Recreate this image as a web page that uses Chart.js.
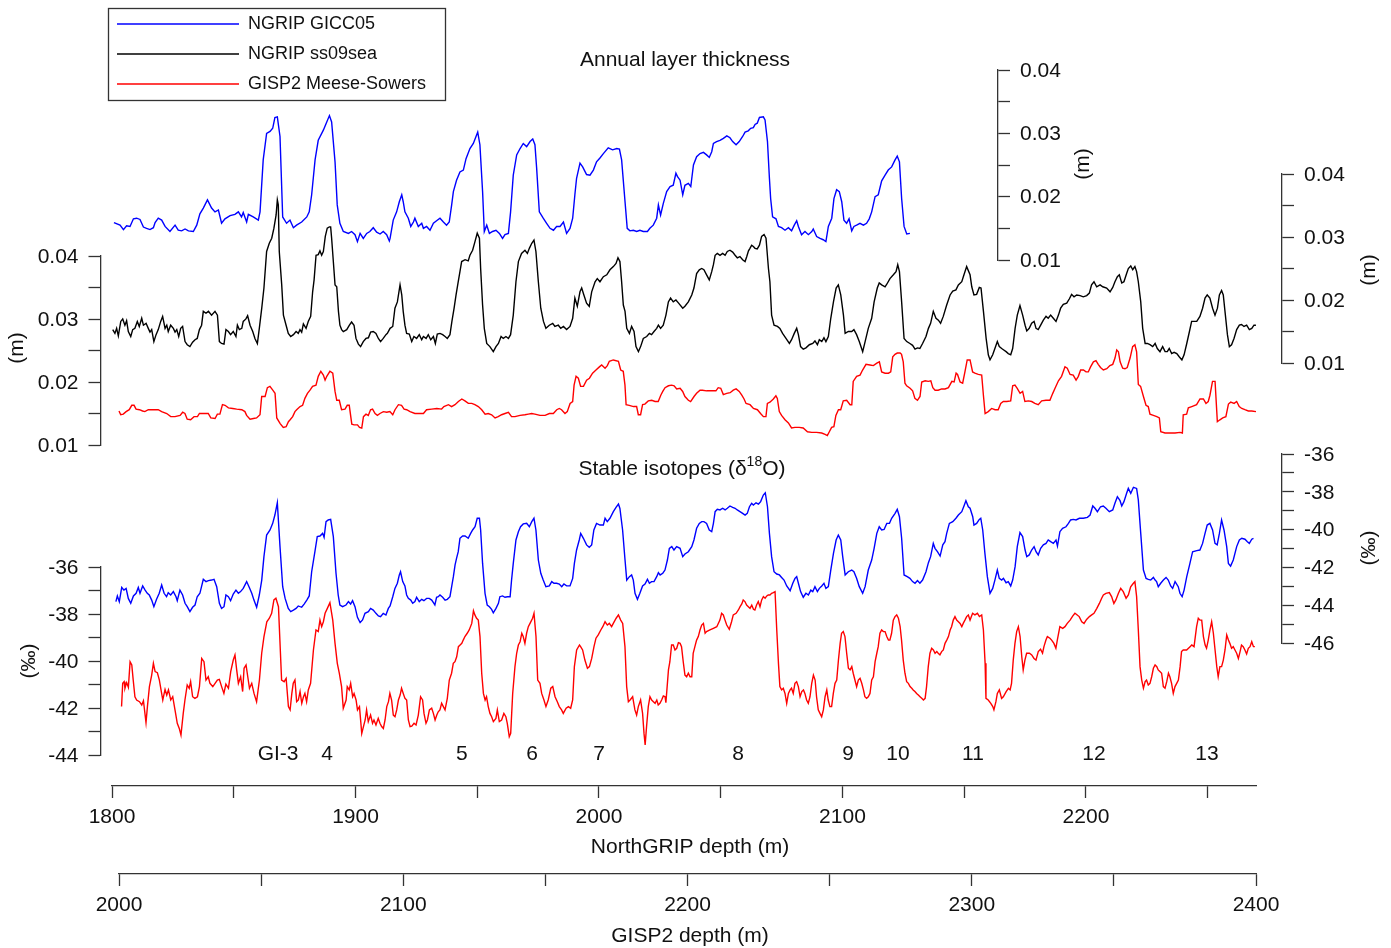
<!DOCTYPE html>
<html>
<head>
<meta charset="utf-8">
<title>NGRIP / GISP2 layer thickness and isotopes</title>
<script src="https://cdn.jsdelivr.net/npm/chart.js@4.4.1/dist/chart.umd.min.js"></script>
<style>
  html, body { margin: 0; background: #fff; }
  #wrap { position: relative; width: 1391px; height: 948px; }
</style>
</head>
<body>
<div id="wrap"><canvas id="chart" width="1391" height="948"></canvas></div>
<script>
// ===== DATA =====
// [depth (m), value] pairs
// NGRIP GICC05 annual layer thickness (m) vs NorthGRIP depth
const gicc05Layer = [
  [1800.8,.0159],[1803.3,.0155],[1804.7,.0148],[1806.0,.0154],[1807.4,.0153],[1808.8,.0165],[1810.1,.0166],[1811.5,.0164],[1812.9,.0152],[1814.2,.0150],
  [1815.6,.0148],[1817.0,.0151],[1817.7,.0159],[1819.0,.0166],[1820.4,.0163],[1821.8,.0153],[1823.8,.0145],[1825.9,.0155],[1827.2,.0147],[1828.6,.0146],
  [1830.0,.0149],[1831.4,.0146],[1833.4,.0145],[1834.8,.0155],[1836.1,.0173],[1837.5,.0182],[1839.2,.0195],[1840.9,.0182],[1842.3,.0176],[1843.7,.0179],
  [1845.0,.0158],[1846.4,.0165],[1848.5,.0170],[1850.5,.0172],[1851.9,.0176],[1853.2,.0168],[1853.9,.0175],[1855.3,.0160],[1856.0,.0172],[1858.0,.0168],
  [1860.1,.0163],[1860.8,.0176],[1862.1,.0258],[1863.5,.0300],[1864.9,.0303],[1866.0,.0308],[1866.9,.0325],[1867.9,.0326],[1869.0,.0295],[1870.1,.0168],
  [1871.7,.0158],[1873.1,.0163],[1874.5,.0151],[1875.8,.0155],[1877.9,.0160],[1880.0,.0168],[1881.0,.0176],[1882.0,.0203],[1883.4,.0258],[1884.7,.0289],
  [1886.8,.0305],[1888.2,.0318],[1889.3,.0328],[1890.2,.0318],[1891.6,.0255],[1892.5,.0187],[1893.6,.0158],[1895.0,.0145],[1897.1,.0142],[1898.4,.0145],
  [1899.8,.0140],[1900.8,.0129],[1901.9,.0142],[1903.2,.0134],[1904.6,.0142],[1905.9,.0145],[1907.3,.0151],[1908.7,.0144],[1910.1,.0141],[1911.4,.0145],
  [1912.8,.0140],[1913.9,.0130],[1914.2,.0134],[1915.5,.0163],[1916.9,.0176],[1918.0,.0192],[1919.0,.0203],[1919.6,.0192],[1920.3,.0176],[1921.7,.0166],
  [1922.7,.0153],[1923.8,.0160],[1924.4,.0166],[1925.8,.0153],[1927.2,.0158],[1927.9,.0150],[1929.2,.0153],[1930.6,.0147],[1932.0,.0158],[1933.3,.0162],
  [1934.7,.0166],[1936.1,.0160],[1937.4,.0155],[1938.5,.0160],[1939.5,.0187],[1940.2,.0208],[1941.5,.0226],[1942.9,.0239],[1944.3,.0242],[1945.4,.0260],
  [1947.0,.0276],[1948.4,.0284],[1949.5,.0295],[1950.2,.0302],[1951.1,.0282],[1952.2,.0208],[1952.9,.0145],[1953.9,.0155],[1955.0,.0142],[1956.3,.0145],
  [1957.7,.0147],[1959.1,.0142],[1960.4,.0134],[1961.4,.0140],[1962.8,.0142],[1963.7,.0176],[1964.8,.0234],[1966.2,.0266],[1967.6,.0276],[1968.9,.0284],
  [1970.3,.0279],[1971.7,.0287],[1972.8,.0291],[1973.7,.0282],[1974.4,.0245],[1975.5,.0176],[1977.1,.0166],[1978.5,.0158],[1979.9,.0150],[1981.3,.0147],
  [1982.6,.0153],[1984.0,.0153],[1985.4,.0160],[1986.7,.0142],[1988.1,.0150],[1989.2,.0166],[1990.1,.0203],[1990.8,.0229],[1992.2,.0253],[1993.3,.0247],
  [1994.9,.0235],[1996.3,.0234],[1997.7,.0242],[1999.0,.0255],[2000.4,.0261],[2001.8,.0268],[2003.8,.0277],[2005.6,.0274],[2007.3,.0276],[2008.4,.0275],
  [2009.3,.0258],[2010.7,.0192],[2011.6,.0150],[2012.7,.0146],[2014.1,.0147],[2015.5,.0145],[2016.8,.0147],[2018.2,.0145],[2019.9,.0145],[2020.9,.0150],
  [2022.3,.0155],[2023.7,.0166],[2024.4,.0187],[2025.3,.0171],[2026.4,.0189],[2027.8,.0208],[2029.2,.0216],[2030.5,.0218],[2031.6,.0237],[2032.2,.0232],
  [2033.3,.0226],[2034.4,.0203],[2035.3,.0218],[2036.7,.0221],[2037.7,.0216],[2038.8,.0250],[2040.1,.0263],[2041.5,.0268],[2042.9,.0270],[2044.2,.0266],
  [2045.3,.0262],[2046.3,.0271],[2047.0,.0284],[2048.3,.0287],[2049.7,.0289],[2051.1,.0292],[2052.5,.0296],[2053.8,.0293],[2054.9,.0287],[2056.3,.0282],
  [2057.6,.0287],[2059.0,.0295],[2060.0,.0302],[2061.3,.0304],[2062.3,.0308],[2063.4,.0309],[2064.1,.0314],[2065.0,.0316],[2065.9,.0325],[2067.5,.0326],
  [2068.2,.0321],[2069.2,.0287],[2070.0,.0229],[2070.5,.0197],[2071.3,.0168],[2072.7,.0165],[2073.7,.0153],[2075.0,.0151],[2076.4,.0147],[2077.8,.0151],
  [2079.1,.0146],[2080.2,.0155],[2081.2,.0162],[2081.9,.0153],[2083.2,.0140],[2084.6,.0145],[2086.0,.0140],[2087.4,.0145],[2088.0,.0149],[2089.4,.0137],
  [2090.8,.0134],[2092.1,.0132],[2093.2,.0129],[2094.2,.0153],[2095.6,.0166],[2096.5,.0197],[2097.6,.0211],[2098.7,.0208],[2099.7,.0192],[2100.6,.0163],
  [2101.7,.0158],[2102.7,.0165],[2103.8,.0146],[2104.7,.0153],[2105.8,.0155],[2107.2,.0158],[2108.6,.0155],[2109.9,.0158],[2111.0,.0165],[2112.0,.0176],
  [2113.4,.0200],[2114.7,.0203],[2116.1,.0225],[2117.5,.0234],[2118.8,.0242],[2120.2,.0247],[2121.6,.0258],[2122.5,.0264],[2123.4,.0255],[2124.3,.0197],
  [2125.3,.0153],[2126.4,.0141],[2127.7,.0142]
];

// NGRIP ss09sea annual layer thickness (m) vs NorthGRIP depth
const ss09Layer = [
  [1800.3,.0153],[1801.2,.0147],[1801.9,.0155],[1802.6,.0143],[1803.6,.0166],[1804.4,.0170],[1805.3,.0160],[1806.0,.0167],[1806.7,.0150],[1807.7,.0142],
  [1808.5,.0153],[1809.4,.0155],[1810.4,.0166],[1811.2,.0158],[1812.2,.0171],[1812.9,.0160],[1814.0,.0163],[1814.9,.0155],[1815.6,.0149],[1816.3,.0153],
  [1817.2,.0134],[1818.1,.0145],[1819.0,.0153],[1820.0,.0166],[1820.8,.0174],[1821.8,.0155],[1822.5,.0160],[1823.1,.0150],[1824.1,.0160],[1825.2,.0155],
  [1825.9,.0149],[1826.6,.0153],[1827.4,.0142],[1828.2,.0155],[1829.0,.0158],[1830.0,.0134],[1830.9,.0129],[1832.0,.0126],[1833.1,.0133],[1834.1,.0137],
  [1835.0,.0139],[1835.9,.0153],[1836.8,.0160],[1837.5,.0182],[1838.6,.0179],[1839.6,.0182],[1840.9,.0176],[1842.3,.0182],[1843.3,.0176],[1844.1,.0134],
  [1845.0,.0131],[1846.0,.0130],[1846.8,.0153],[1847.8,.0150],[1848.7,.0145],[1849.8,.0150],[1850.9,.0142],[1851.5,.0160],[1852.3,.0153],[1853.3,.0155],
  [1853.9,.0166],[1855.0,.0170],[1855.7,.0175],[1856.7,.0160],[1857.8,.0150],[1858.7,.0139],[1859.7,.0131],[1860.5,.0155],[1861.5,.0187],[1862.4,.0219],
  [1863.5,.0277],[1864.6,.0290],[1865.6,.0298],[1866.5,.0314],[1867.4,.0335],[1867.9,.0359],[1868.3,.0351],[1868.7,.0277],[1869.7,.0224],[1870.4,.0176],
  [1871.5,.0160],[1872.4,.0147],[1873.4,.0142],[1874.5,.0145],[1875.6,.0150],[1876.5,.0147],[1877.2,.0153],[1877.9,.0149],[1878.6,.0162],[1879.7,.0155],
  [1880.6,.0166],[1881.6,.0174],[1882.4,.0213],[1883.0,.0232],[1883.8,.0271],[1884.7,.0272],[1885.4,.0278],[1886.1,.0271],[1886.8,.0277],[1887.6,.0301],
  [1888.4,.0314],[1889.3,.0316],[1889.8,.0316],[1890.2,.0298],[1890.9,.0261],[1891.6,.0224],[1892.3,.0221],[1893.0,.0182],[1893.6,.0160],[1894.3,.0153],
  [1895.0,.0150],[1896.4,.0153],[1897.5,.0160],[1898.4,.0165],[1899.4,.0160],[1900.2,.0139],[1901.2,.0130],[1902.1,.0126],[1903.2,.0134],[1904.3,.0139],
  [1905.3,.0140],[1906.2,.0149],[1907.3,.0150],[1908.4,.0147],[1909.4,.0139],[1910.3,.0134],[1911.4,.0139],[1912.5,.0145],[1913.1,.0147],[1914.2,.0155],
  [1915.3,.0158],[1916.2,.0187],[1917.2,.0197],[1918.3,.0224],[1919.0,.0208],[1919.6,.0182],[1920.3,.0160],[1921.0,.0147],[1922.1,.0146],[1923.1,.0134],
  [1924.0,.0142],[1925.1,.0139],[1926.2,.0145],[1927.2,.0137],[1927.9,.0142],[1929.0,.0139],[1929.9,.0145],[1930.9,.0137],[1932.0,.0142],[1932.8,.0131],
  [1933.6,.0146],[1934.7,.0147],[1935.8,.0145],[1936.8,.0142],[1937.7,.0139],[1938.8,.0145],[1939.6,.0166],[1940.5,.0187],[1941.3,.0208],[1942.2,.0229],
  [1942.9,.0245],[1943.6,.0261],[1945.0,.0264],[1946.3,.0262],[1947.0,.0271],[1948.1,.0279],[1949.1,.0293],[1950.0,.0306],[1950.9,.0298],[1951.4,.0250],
  [1952.2,.0192],[1952.9,.0155],[1953.9,.0131],[1955.2,.0126],[1956.6,.0118],[1957.7,.0126],[1958.7,.0131],[1959.8,.0142],[1960.7,.0139],[1961.8,.0142],
  [1962.8,.0139],[1963.7,.0145],[1964.8,.0176],[1965.9,.0229],[1966.9,.0261],[1968.2,.0274],[1969.6,.0279],[1970.6,.0274],[1971.4,.0282],[1972.4,.0290],
  [1973.3,.0295],[1974.1,.0277],[1975.1,.0229],[1976.1,.0187],[1977.2,.0166],[1978.2,.0155],[1979.6,.0160],[1981.0,.0163],[1981.9,.0158],[1983.3,.0160],
  [1984.3,.0155],[1985.4,.0158],[1986.7,.0153],[1988.1,.0158],[1989.2,.0171],[1990.1,.0203],[1991.1,.0190],[1992.2,.0213],[1992.9,.0219],[1993.8,.0208],
  [1994.9,.0195],[1996.0,.0190],[1997.0,.0213],[1998.4,.0229],[1999.3,.0234],[2000.4,.0229],[2001.8,.0237],[2003.2,.0240],[2004.5,.0248],[2005.9,.0253],
  [2007.0,.0258],[2007.8,.0267],[2008.6,.0261],[2009.3,.0229],[2010.0,.0192],[2010.7,.0182],[2011.4,.0155],[2012.5,.0147],[2013.4,.0158],[2014.4,.0150],
  [2015.2,.0126],[2016.2,.0118],[2017.1,.0126],[2018.2,.0139],[2019.6,.0142],[2020.7,.0147],[2021.6,.0145],[2022.6,.0150],[2023.7,.0155],[2024.4,.0160],
  [2025.3,.0155],[2026.4,.0160],[2027.5,.0176],[2028.5,.0197],[2029.4,.0203],[2030.5,.0197],[2031.6,.0200],[2032.7,.0195],[2034.4,.0187],[2035.3,.0190],
  [2036.7,.0197],[2038.1,.0208],[2039.0,.0219],[2040.1,.0242],[2041.2,.0248],[2042.2,.0250],[2043.1,.0248],[2044.2,.0240],[2045.3,.0232],[2046.3,.0245],
  [2047.0,.0256],[2047.7,.0271],[2048.6,.0274],[2049.7,.0271],[2050.8,.0274],[2051.8,.0271],[2052.7,.0277],[2053.8,.0279],[2054.9,.0276],[2055.9,.0271],
  [2056.8,.0267],[2057.9,.0269],[2059.0,.0264],[2060.0,.0261],[2060.7,.0269],[2061.4,.0278],[2062.0,.0282],[2062.7,.0287],[2063.4,.0285],[2064.1,.0282],
  [2065.0,.0281],[2065.9,.0287],[2066.8,.0301],[2067.8,.0304],[2068.6,.0298],[2069.6,.0250],[2070.2,.0229],[2070.9,.0176],[2071.9,.0160],[2073.3,.0158],
  [2074.3,.0155],[2075.4,.0147],[2076.8,.0139],[2078.2,.0131],[2079.1,.0137],[2080.2,.0147],[2081.2,.0155],[2081.9,.0145],[2082.8,.0126],[2083.9,.0122],
  [2085.0,.0124],[2086.4,.0129],[2087.8,.0131],[2088.7,.0135],[2089.7,.0129],[2090.5,.0137],[2091.5,.0134],[2092.4,.0140],[2093.2,.0134],[2094.2,.0142],
  [2095.2,.0171],[2096.3,.0197],[2097.4,.0219],[2098.3,.0224],[2099.3,.0208],[2100.4,.0176],[2101.1,.0147],[2102.4,.0150],[2103.8,.0150],[2104.7,.0153],
  [2105.8,.0145],[2106.9,.0134],[2108.3,.0118],[2109.3,.0134],[2110.6,.0155],[2112.0,.0171],[2113.0,.0197],[2114.3,.0219],[2115.1,.0227],[2116.1,.0224],
  [2117.5,.0221],[2118.2,.0225],[2119.5,.0234],[2120.9,.0240],[2122.0,.0245],[2122.7,.0256],[2123.4,.0245],[2124.3,.0197],[2125.3,.0139],[2126.4,.0134],
  [2127.7,.0131],[2128.8,.0128],[2129.8,.0122],[2130.8,.0124],[2131.8,.0123],[2132.9,.0131],[2134.3,.0142],[2135.3,.0155],[2136.2,.0163],[2137.3,.0182],
  [2138.4,.0171],[2139.4,.0168],[2140.3,.0163],[2141.4,.0174],[2142.8,.0192],[2144.2,.0208],[2145.3,.0214],[2146.6,.0216],[2147.6,.0224],[2149.0,.0229],
  [2149.9,.0240],[2151.0,.0253],[2152.4,.0240],[2153.1,.0221],[2154.0,.0208],[2155.1,.0209],[2156.2,.0220],[2156.9,.0219],[2157.9,.0182],[2159.0,.0139],
  [2159.9,.0113],[2160.6,.0105],[2161.7,.0113],[2162.6,.0123],[2163.6,.0134],[2164.4,.0126],[2165.4,.0123],[2166.1,.0121],[2167.2,.0118],[2168.1,.0115],
  [2169.1,.0113],[2169.9,.0123],[2170.9,.0155],[2171.8,.0176],[2172.9,.0191],[2174.0,.0176],[2175.0,.0160],[2175.7,.0151],[2176.7,.0155],[2177.7,.0163],
  [2178.7,.0166],[2179.5,.0155],[2180.4,.0153],[2181.4,.0160],[2182.5,.0168],[2183.6,.0174],[2184.5,.0171],[2185.5,.0176],[2186.6,.0171],[2187.7,.0166],
  [2188.7,.0176],[2189.6,.0187],[2190.7,.0193],[2192.1,.0195],[2193.2,.0202],[2194.1,.0209],[2195.1,.0205],[2196.2,.0208],[2197.6,.0207],[2198.9,.0205],
  [2200.3,.0207],[2201.4,.0211],[2202.3,.0224],[2203.3,.0229],[2204.4,.0221],[2205.8,.0224],[2206.9,.0221],[2208.5,.0219],[2209.9,.0213],[2211.0,.0220],
  [2211.9,.0229],[2212.9,.0237],[2213.7,.0240],[2214.7,.0227],[2215.6,.0229],[2216.7,.0242],[2217.4,.0250],[2218.4,.0254],[2219.2,.0248],[2220.1,.0253],
  [2220.8,.0245],[2221.5,.0229],[2222.5,.0197],[2223.3,.0155],[2224.3,.0131],[2225.2,.0131],[2226.3,.0129],[2227.4,.0126],[2228.4,.0131],[2229.3,.0123],
  [2230.4,.0118],[2231.5,.0126],[2232.5,.0118],[2233.4,.0118],[2234.2,.0123],[2235.2,.0115],[2236.2,.0117],[2237.3,.0115],[2238.3,.0110],[2239.4,.0105],
  [2240.3,.0113],[2241.4,.0131],[2242.5,.0150],[2243.4,.0166],[2244.4,.0166],[2245.5,.0166],[2246.8,.0174],[2247.9,.0187],[2248.9,.0203],[2249.8,.0208],
  [2250.9,.0203],[2252.0,.0187],[2253.0,.0176],[2254.0,.0187],[2254.8,.0208],[2255.7,.0215],[2256.4,.0208],[2257.1,.0182],[2258.1,.0145],[2258.9,.0126],
  [2259.8,.0129],[2260.8,.0139],[2261.9,.0153],[2263.0,.0160],[2263.9,.0161],[2264.9,.0158],[2266.0,.0160],[2267.1,.0153],[2268.1,.0155],[2269.0,.0160],
  [2269.8,.0160]
];

// GISP2 Meese-Sowers annual layer thickness (m) vs GISP2 depth
const gisp2Layer = [
  [2000.0,.0154],[2000.6,.0148],[2001.5,.0149],[2002.5,.0153],[2003.6,.0156],[2004.5,.0163],[2005.3,.0163],[2006.0,.0157],[2007.2,.0156],[2008.3,.0154],
  [2009.1,.0153],[2010.3,.0156],[2012.7,.0156],[2013.8,.0156],[2015.0,.0153],[2016.8,.0150],[2018.2,.0145],[2019.7,.0145],[2021.5,.0147],[2022.4,.0152],
  [2023.2,.0150],[2024.0,.0141],[2025.2,.0140],[2026.4,.0145],[2027.6,.0145],[2028.3,.0150],[2029.7,.0150],[2031.4,.0150],[2032.3,.0143],[2033.8,.0142],
  [2034.6,.0149],[2035.5,.0149],[2036.4,.0164],[2037.3,.0163],[2038.5,.0159],[2040.0,.0158],[2041.4,.0157],[2043.2,.0156],[2044.3,.0153],[2044.9,.0147],
  [2046.1,.0141],[2047.3,.0142],[2048.4,.0143],[2049.6,.0148],[2050.2,.0177],[2051.4,.0177],[2052.2,.0191],[2053.1,.0193],[2054.1,.0187],[2054.9,.0182],
  [2055.5,.0143],[2056.7,.0134],[2057.8,.0128],[2058.8,.0129],[2059.6,.0137],[2060.2,.0140],[2061.1,.0145],[2061.9,.0153],[2062.5,.0156],[2063.7,.0161],
  [2064.6,.0163],[2065.4,.0174],[2066.3,.0182],[2067.2,.0187],[2068.1,.0193],[2069.3,.0195],[2070.1,.0209],[2071.0,.0217],[2071.9,.0211],[2072.5,.0203],
  [2073.1,.0209],[2074.2,.0217],[2075.2,.0214],[2076.0,.0185],[2076.6,.0171],[2077.5,.0171],[2078.3,.0156],[2079.5,.0157],[2080.3,.0163],[2081.0,.0163],
  [2081.9,.0133],[2082.7,.0132],[2083.9,.0132],[2084.6,.0128],[2085.4,.0127],[2086.0,.0145],[2086.9,.0149],[2087.7,.0147],[2088.5,.0156],[2089.2,.0157],
  [2090.1,.0150],[2090.9,.0147],[2091.8,.0150],[2093.0,.0153],[2094.2,.0152],[2095.3,.0153],[2096.3,.0148],[2097.1,.0156],[2098.3,.0164],[2099.4,.0163],
  [2100.3,.0157],[2101.2,.0156],[2102.4,.0153],[2104.1,.0150],[2105.9,.0150],[2107.1,.0150],[2108.2,.0156],[2110.0,.0157],[2111.8,.0158],[2113.5,.0157],
  [2114.3,.0161],[2115.9,.0164],[2117.0,.0161],[2118.2,.0164],[2119.4,.0169],[2120.6,.0173],[2121.7,.0170],[2122.9,.0166],[2124.1,.0166],[2125.2,.0164],
  [2126.4,.0161],[2127.6,.0156],[2128.8,.0149],[2129.9,.0150],[2131.1,.0148],[2132.3,.0143],[2133.4,.0145],[2134.6,.0148],[2135.8,.0150],[2137.0,.0152],
  [2138.1,.0145],[2139.3,.0145],[2141.1,.0147],[2142.8,.0148],[2144.0,.0149],[2145.2,.0150],[2146.3,.0149],[2148.1,.0147],[2149.9,.0147],[2151.4,.0150],
  [2152.8,.0150],[2154.0,.0156],[2154.9,.0158],[2155.7,.0156],[2156.9,.0150],[2157.7,.0153],[2158.7,.0166],[2159.6,.0169],[2160.1,.0195],[2160.8,.0209],
  [2161.6,.0206],[2162.4,.0193],[2163.4,.0193],[2164.5,.0203],[2165.5,.0206],[2166.6,.0214],[2167.8,.0219],[2169.0,.0224],[2169.8,.0227],[2171.0,.0222],
  [2171.8,.0226],[2172.5,.0233],[2173.9,.0235],[2175.7,.0233],[2176.5,.0219],[2177.4,.0217],[2178.0,.0195],[2178.4,.0164],[2179.5,.0163],[2181.0,.0161],
  [2182.1,.0161],[2182.7,.0148],[2183.5,.0148],[2184.2,.0164],[2185.0,.0165],[2186.2,.0170],[2187.4,.0171],[2188.6,.0169],[2189.7,.0169],[2190.6,.0179],
  [2191.3,.0185],[2192.1,.0191],[2193.3,.0194],[2194.4,.0195],[2195.3,.0194],[2196.2,.0189],[2197.4,.0190],[2198.3,.0185],[2199.1,.0177],[2200.3,.0171],
  [2201.1,.0169],[2202.3,.0177],[2203.2,.0182],[2204.4,.0187],[2205.3,.0187],[2206.7,.0186],[2208.5,.0186],[2210.0,.0186],[2210.8,.0191],[2211.7,.0190],
  [2212.6,.0180],[2213.8,.0182],[2215.0,.0183],[2216.1,.0187],[2217.1,.0189],[2218.2,.0185],[2219.1,.0179],[2219.9,.0173],[2220.6,.0166],[2222.0,.0164],
  [2223.2,.0158],[2224.6,.0156],[2225.7,.0150],[2226.7,.0145],[2227.6,.0145],[2228.1,.0166],[2229.0,.0168],[2230.2,.0173],[2231.1,.0178],[2231.6,.0174],
  [2232.3,.0153],[2233.1,.0147],[2234.3,.0140],[2235.5,.0135],[2236.6,.0127],[2237.8,.0128],[2239.3,.0128],[2240.7,.0127],[2242.2,.0121],[2243.7,.0120],
  [2245.4,.0120],[2247.2,.0119],[2248.4,.0117],[2249.2,.0115],[2249.9,.0121],[2250.7,.0128],[2251.5,.0129],[2252.2,.0147],[2253.1,.0156],[2253.9,.0156],
  [2254.8,.0170],[2256.0,.0171],[2257.2,.0164],[2257.8,.0164],[2258.3,.0201],[2259.5,.0209],[2260.7,.0211],[2261.6,.0219],[2262.8,.0228],[2264.2,.0227],
  [2265.4,.0226],[2266.6,.0230],[2267.5,.0232],[2268.3,.0216],[2269.5,.0214],[2270.7,.0214],[2271.5,.0216],[2272.2,.0240],[2273.0,.0244],[2273.8,.0246],
  [2274.8,.0246],[2275.3,.0244],[2275.9,.0232],[2276.5,.0198],[2277.1,.0194],[2278.3,.0190],[2279.2,.0186],[2280.0,.0174],[2280.9,.0171],[2281.8,.0177],
  [2282.4,.0200],[2283.6,.0202],[2284.7,.0201],[2285.6,.0202],[2286.3,.0191],[2287.1,.0187],[2288.2,.0187],[2289.4,.0189],[2290.6,.0189],[2291.8,.0191],
  [2293.0,.0201],[2293.8,.0200],[2294.5,.0214],[2295.0,.0212],[2295.9,.0200],[2296.8,.0198],[2297.6,.0216],[2298.4,.0235],[2299.4,.0235],[2300.3,.0216],
  [2301.1,.0214],[2302.3,.0212],[2303.5,.0211],[2304.1,.0179],[2304.7,.0150],[2305.8,.0153],[2307.0,.0158],[2308.2,.0156],[2309.3,.0156],[2310.2,.0166],
  [2311.1,.0169],[2312.3,.0169],[2313.7,.0170],[2314.4,.0194],[2315.2,.0195],[2316.0,.0190],[2317.0,.0182],[2317.9,.0185],[2318.7,.0169],[2319.9,.0170],
  [2321.1,.0169],[2322.2,.0166],[2323.4,.0164],[2324.6,.0170],[2326.1,.0171],[2327.5,.0171],[2328.5,.0182],[2329.3,.0190],[2330.5,.0202],[2331.6,.0209],
  [2332.8,.0224],[2333.6,.0222],[2334.6,.0212],[2335.7,.0211],[2336.7,.0203],[2337.5,.0209],[2338.3,.0219],[2339.3,.0219],[2340.2,.0216],[2341.0,.0216],
  [2341.8,.0224],[2342.8,.0232],[2343.7,.0234],[2344.5,.0228],[2345.3,.0223],[2346.3,.0219],[2347.5,.0221],[2348.6,.0226],[2349.6,.0228],[2350.4,.0238],
  [2351.0,.0251],[2351.6,.0248],[2352.2,.0232],[2353.1,.0222],[2353.9,.0221],[2354.7,.0223],[2355.7,.0238],[2356.6,.0256],[2357.4,.0259],[2358.0,.0248],
  [2358.6,.0196],[2359.4,.0193],[2360.4,.0177],[2361.3,.0163],[2362.1,.0161],[2362.7,.0149],[2363.9,.0147],[2365.1,.0145],[2366.0,.0143],[2366.5,.0121],
  [2368.0,.0119],[2369.7,.0119],[2371.5,.0119],[2373.3,.0120],[2374.1,.0119],[2374.4,.0148],[2375.6,.0149],[2376.2,.0159],[2377.4,.0161],[2379.1,.0164],
  [2380.3,.0173],[2381.5,.0173],[2382.4,.0166],[2383.2,.0169],[2383.8,.0179],[2384.7,.0201],[2385.6,.0201],[2386.2,.0153],[2386.4,.0137],[2387.3,.0140],
  [2388.3,.0143],[2389.4,.0145],[2390.3,.0165],[2391.1,.0168],[2392.3,.0166],[2393.2,.0169],[2394.1,.0161],[2395.0,.0158],[2396.1,.0156],[2397.3,.0154],
  [2398.5,.0154],[2400.0,.0153]
];

// NGRIP d18O (permil) vs NorthGRIP depth
const ngripIso = [
  [1801.6,-43.81],[1802.2,-43.51],[1803.0,-43.81],[1804.0,-43.06],[1804.9,-43.20],[1805.8,-43.11],[1806.7,-43.64],[1807.7,-43.90],[1808.8,-43.51],[1809.9,-43.37],
  [1810.8,-43.06],[1811.5,-43.37],[1812.6,-42.98],[1813.6,-43.20],[1814.5,-43.37],[1815.3,-43.46],[1816.3,-43.73],[1817.2,-44.08],[1818.3,-43.69],[1819.4,-43.37],
  [1820.4,-42.93],[1821.4,-43.37],[1822.4,-43.55],[1823.1,-43.34],[1824.1,-43.46],[1825.2,-43.28],[1826.3,-43.55],[1826.8,-43.76],[1827.9,-43.20],[1829.0,-43.46],
  [1830.0,-43.90],[1830.9,-44.08],[1832.0,-44.34],[1833.1,-44.11],[1834.1,-43.99],[1835.0,-43.55],[1836.1,-43.37],[1837.5,-42.63],[1838.6,-42.75],[1839.6,-42.70],
  [1840.9,-42.67],[1841.9,-42.63],[1843.0,-43.02],[1844.1,-43.90],[1845.0,-44.17],[1846.0,-44.08],[1846.8,-43.46],[1847.8,-43.55],[1848.7,-43.76],[1849.8,-43.41],
  [1850.9,-43.20],[1851.9,-43.37],[1852.8,-43.28],[1853.9,-43.11],[1855.3,-42.75],[1856.4,-43.06],[1857.4,-43.37],[1858.3,-43.73],[1859.4,-44.11],[1860.5,-43.46],
  [1861.5,-42.67],[1862.4,-41.43],[1863.5,-40.29],[1864.9,-40.02],[1866.0,-39.67],[1866.9,-39.23],[1867.9,-38.58],[1869.0,-40.90],[1870.1,-43.02],[1871.1,-43.64],
  [1872.4,-44.17],[1873.4,-44.34],[1874.5,-44.26],[1875.6,-44.17],[1876.5,-44.04],[1877.9,-44.11],[1878.9,-43.94],[1880.0,-43.73],[1881.0,-43.51],[1882.0,-42.23],
  [1883.4,-41.11],[1884.3,-40.37],[1885.4,-40.34],[1886.5,-40.20],[1887.1,-40.41],[1887.9,-39.58],[1888.8,-39.49],[1889.8,-39.46],[1890.9,-40.37],[1892.0,-42.31],
  [1892.9,-43.46],[1893.6,-43.99],[1894.7,-44.08],[1896.1,-43.99],[1897.1,-43.81],[1898.0,-43.94],[1898.8,-43.76],[1899.8,-44.08],[1900.8,-44.64],[1901.9,-44.92],
  [1902.9,-44.78],[1903.9,-44.43],[1905.3,-44.34],[1906.2,-44.17],[1907.3,-44.26],[1908.4,-44.43],[1909.4,-44.57],[1910.3,-44.61],[1911.4,-44.43],[1912.5,-44.52],
  [1913.5,-44.17],[1914.2,-44.04],[1915.3,-43.55],[1916.2,-43.11],[1917.2,-42.84],[1918.0,-42.40],[1918.5,-42.23],[1919.4,-42.75],[1920.3,-42.98],[1921.0,-43.46],
  [1921.7,-43.64],[1922.7,-43.73],[1923.5,-43.90],[1924.4,-43.81],[1925.1,-43.58],[1926.2,-43.81],[1927.2,-43.69],[1928.1,-43.76],[1929.2,-43.64],[1930.3,-43.64],
  [1931.3,-43.73],[1932.0,-43.87],[1932.6,-43.99],[1933.3,-43.58],[1934.0,-43.55],[1934.7,-43.46],[1935.8,-43.58],[1936.8,-43.73],[1937.7,-43.69],[1938.8,-43.55],
  [1939.5,-43.02],[1940.2,-42.49],[1940.9,-41.87],[1941.5,-41.52],[1942.2,-41.17],[1942.9,-40.46],[1944.0,-40.34],[1945.0,-40.34],[1946.3,-40.46],[1947.3,-40.20],
  [1948.1,-40.02],[1949.1,-39.85],[1950.0,-39.40],[1950.9,-39.40],[1951.4,-40.02],[1952.2,-41.79],[1953.2,-43.37],[1954.1,-43.99],[1955.0,-44.08],[1955.9,-44.22],
  [1956.6,-44.40],[1957.7,-44.17],[1958.7,-43.90],[1959.3,-43.55],[1960.4,-43.51],[1961.4,-43.58],[1962.4,-43.55],[1963.5,-43.55],[1964.1,-42.67],[1964.8,-41.79],
  [1965.9,-40.55],[1966.9,-40.11],[1967.8,-39.85],[1968.9,-39.70],[1970.3,-39.67],[1971.4,-39.85],[1972.4,-39.58],[1973.3,-39.40],[1974.1,-40.02],[1975.1,-41.61],
  [1976.1,-42.31],[1977.1,-42.67],[1978.2,-43.02],[1979.6,-42.98],[1980.6,-42.75],[1981.5,-42.84],[1982.6,-42.84],[1983.7,-42.88],[1984.7,-43.02],[1985.6,-42.88],
  [1986.7,-42.98],[1988.1,-42.98],[1989.2,-42.58],[1989.9,-41.79],[1990.8,-41.08],[1991.9,-40.55],[1992.5,-40.20],[1993.6,-40.46],[1994.9,-40.81],[1996.0,-40.94],
  [1997.0,-40.81],[1997.9,-40.02],[1999.0,-39.67],[2000.4,-39.76],[2001.8,-39.76],[2002.5,-39.40],[2003.4,-39.58],[2004.5,-39.40],[2005.9,-39.05],[2007.0,-38.82],
  [2008.0,-38.65],[2008.6,-38.88],[2009.7,-40.02],[2010.7,-41.61],[2011.4,-42.67],[2012.5,-42.49],[2013.4,-42.40],[2014.1,-42.67],[2014.8,-43.37],[2015.8,-43.69],
  [2016.8,-43.37],[2017.9,-42.98],[2018.9,-42.88],[2019.9,-42.63],[2020.7,-42.84],[2021.6,-42.75],[2022.6,-42.75],[2023.7,-42.49],[2024.4,-42.28],[2025.1,-42.40],
  [2026.2,-42.31],[2027.1,-42.14],[2028.1,-41.61],[2028.9,-40.99],[2029.9,-40.90],[2030.8,-41.08],[2031.9,-40.90],[2033.3,-40.99],[2034.4,-41.43],[2035.3,-41.29],
  [2036.7,-41.17],[2038.1,-40.90],[2039.0,-40.55],[2040.1,-39.93],[2041.2,-39.67],[2042.2,-39.58],[2043.1,-39.58],[2044.2,-39.67],[2045.3,-40.02],[2046.3,-40.11],
  [2047.0,-39.67],[2047.7,-39.05],[2048.6,-38.93],[2049.7,-38.96],[2050.8,-38.87],[2051.8,-38.96],[2052.7,-38.87],[2053.8,-38.75],[2054.9,-38.82],[2055.9,-38.87],
  [2056.8,-38.96],[2057.9,-39.05],[2059.0,-39.14],[2060.0,-39.23],[2060.9,-39.14],[2061.8,-38.79],[2062.7,-38.61],[2063.4,-38.70],[2064.5,-38.58],[2065.5,-38.65],
  [2066.4,-38.52],[2067.5,-38.17],[2068.3,-38.05],[2069.2,-38.79],[2070.0,-40.20],[2070.9,-41.43],[2071.9,-42.23],[2073.0,-42.35],[2074.1,-42.40],[2075.0,-42.53],
  [2076.0,-42.67],[2077.1,-42.98],[2078.5,-43.23],[2079.6,-42.84],[2080.5,-42.58],[2081.2,-42.49],[2081.9,-42.84],[2082.8,-43.28],[2083.9,-43.58],[2085.0,-43.37],
  [2086.0,-43.46],[2087.0,-43.20],[2087.8,-43.28],[2088.7,-43.02],[2089.7,-43.28],[2090.5,-43.11],[2091.5,-42.98],[2092.4,-42.84],[2093.2,-43.11],[2094.2,-43.02],
  [2095.2,-42.14],[2096.3,-41.26],[2097.4,-40.55],[2098.3,-40.29],[2099.3,-40.55],[2100.1,-41.43],[2101.1,-42.40],[2102.4,-42.23],[2103.8,-42.14],[2104.7,-42.23],
  [2105.8,-42.58],[2106.9,-43.02],[2108.3,-43.37],[2109.3,-43.02],[2110.6,-42.14],[2112.0,-41.61],[2113.0,-40.99],[2114.1,-40.20],[2115.1,-39.85],[2116.1,-40.02],
  [2117.1,-39.99],[2118.2,-39.67],[2119.3,-39.67],[2120.2,-39.40],[2121.6,-39.14],[2122.5,-38.93],[2123.4,-39.32],[2124.3,-40.46],[2125.3,-42.40],[2126.6,-42.49],
  [2127.7,-42.58],[2128.8,-42.75],[2129.8,-42.84],[2130.8,-42.70],[2131.8,-42.84],[2132.9,-42.67],[2134.3,-42.23],[2135.3,-41.75],[2136.2,-41.43],[2137.3,-40.73],
  [2138.0,-40.99],[2139.0,-41.17],[2140.1,-41.40],[2141.2,-40.81],[2142.1,-40.64],[2142.8,-40.20],[2143.9,-39.67],[2145.3,-39.58],[2146.6,-39.40],[2147.6,-39.23],
  [2149.0,-39.05],[2149.9,-38.75],[2150.7,-38.47],[2151.7,-38.79],[2152.4,-38.87],[2153.5,-39.32],[2154.0,-39.76],[2155.1,-39.67],[2156.2,-39.46],[2156.8,-39.40],
  [2157.6,-40.02],[2158.5,-41.26],[2159.5,-42.49],[2160.6,-43.37],[2161.7,-43.11],[2162.6,-42.67],[2163.6,-42.14],[2164.4,-42.58],[2165.4,-42.67],[2166.1,-42.58],
  [2167.2,-42.81],[2168.1,-42.75],[2169.1,-42.98],[2169.9,-42.67],[2170.9,-41.96],[2171.8,-40.90],[2172.9,-40.16],[2174.0,-40.37],[2175.0,-41.08],[2175.7,-41.43],
  [2176.7,-41.34],[2177.7,-41.08],[2178.7,-40.90],[2179.5,-41.17],[2180.4,-41.34],[2181.4,-40.99],[2182.5,-40.81],[2183.6,-40.73],[2184.5,-40.55],[2185.5,-40.64],
  [2186.6,-40.73],[2187.7,-40.55],[2188.3,-40.87],[2189.3,-40.11],[2190.4,-39.93],[2191.8,-39.85],[2192.8,-39.67],[2193.7,-39.49],[2194.8,-39.46],[2195.9,-39.49],
  [2197.3,-39.40],[2198.9,-39.40],[2200.6,-39.35],[2201.7,-39.23],[2202.8,-38.75],[2203.7,-38.87],[2204.7,-39.05],[2206.0,-38.79],[2207.1,-38.75],[2208.2,-38.87],
  [2209.6,-39.05],[2211.0,-38.96],[2211.9,-38.61],[2212.9,-38.26],[2214.0,-38.47],[2214.7,-38.75],[2215.6,-38.52],[2216.7,-38.08],[2217.4,-37.82],[2218.4,-38.08],
  [2219.5,-37.76],[2220.8,-37.82],[2221.5,-38.43],[2222.5,-40.20],[2223.6,-42.14],[2224.7,-42.58],[2225.6,-42.63],[2226.6,-42.67],[2227.7,-42.53],[2228.4,-42.67],
  [2229.0,-42.75],[2229.7,-43.02],[2230.7,-42.84],[2231.8,-42.67],[2232.9,-42.53],[2233.8,-42.67],[2234.8,-42.98],[2235.6,-43.11],[2236.6,-42.75],[2237.9,-43.02],
  [2238.6,-43.37],[2239.5,-43.55],[2240.3,-43.20],[2241.4,-42.49],[2242.7,-41.79],[2243.8,-41.17],[2245.5,-41.11],[2246.8,-41.08],[2247.9,-40.73],[2248.9,-40.20],
  [2249.8,-39.76],[2250.9,-39.67],[2252.0,-40.02],[2253.0,-40.73],[2253.9,-40.81],[2254.8,-40.20],[2255.7,-39.49],[2256.7,-40.02],[2257.8,-40.90],[2258.5,-41.79],
  [2259.4,-41.93],[2260.5,-41.61],[2261.9,-40.90],[2263.0,-40.55],[2264.0,-40.46],[2265.3,-40.51],[2266.3,-40.64],[2267.1,-40.73],[2268.1,-40.51],[2268.8,-40.46]
];

// GISP2 d18O (permil) vs GISP2 depth
const gisp2Iso = [
  [2000.9,-41.94],[2001.3,-40.95],[2001.8,-40.88],[2002.1,-41.16],[2002.7,-40.92],[2003.3,-41.12],[2003.9,-40.03],[2004.5,-40.17],[2005.0,-40.81],[2005.6,-41.52],
  [2006.2,-41.66],[2007.2,-41.73],[2008.0,-41.87],[2008.6,-41.69],[2009.5,-42.62],[2010.0,-41.94],[2010.7,-41.09],[2011.5,-40.60],[2012.1,-40.10],[2012.7,-40.45],
  [2013.5,-40.50],[2014.2,-40.81],[2015.0,-41.38],[2015.4,-41.66],[2016.2,-41.21],[2016.8,-41.45],[2017.4,-41.23],[2018.2,-41.66],[2018.9,-41.52],[2019.7,-42.08],
  [2020.5,-42.65],[2021.2,-42.87],[2021.8,-43.15],[2022.6,-42.23],[2023.2,-41.66],[2024.0,-41.02],[2024.7,-41.16],[2025.2,-40.88],[2025.9,-41.52],[2026.7,-41.59],
  [2027.6,-41.52],[2028.3,-41.09],[2029.1,-39.89],[2029.9,-40.03],[2030.6,-40.81],[2031.4,-40.67],[2032.0,-40.95],[2033.0,-41.09],[2033.8,-40.95],[2034.6,-40.81],
  [2035.3,-40.78],[2036.1,-41.09],[2036.9,-41.38],[2037.6,-40.98],[2038.5,-41.16],[2039.3,-40.45],[2040.2,-39.96],[2040.8,-39.74],[2041.4,-40.38],[2042.0,-40.95],
  [2042.8,-40.67],[2043.5,-41.30],[2044.0,-40.31],[2044.7,-40.17],[2045.3,-40.67],[2045.9,-41.16],[2046.7,-40.95],[2047.5,-41.38],[2048.4,-41.73],[2049.4,-40.81],
  [2050.2,-39.67],[2051.0,-38.96],[2052.0,-38.33],[2052.9,-38.18],[2053.7,-37.97],[2054.5,-37.40],[2055.2,-37.33],[2056.1,-37.69],[2056.6,-39.11],[2057.2,-40.81],
  [2058.1,-40.88],[2058.8,-40.74],[2059.6,-41.94],[2060.2,-42.08],[2060.8,-41.38],[2061.3,-40.95],[2061.9,-40.81],[2062.5,-41.73],[2063.1,-41.66],[2063.7,-41.30],
  [2064.3,-41.80],[2064.9,-41.52],[2065.4,-41.38],[2066.0,-41.73],[2066.6,-41.23],[2067.4,-40.95],[2068.4,-39.53],[2069.3,-38.68],[2070.1,-38.75],[2070.7,-38.26],
  [2071.3,-38.54],[2071.9,-38.33],[2072.5,-37.97],[2073.3,-37.76],[2074.2,-37.52],[2075.2,-38.26],[2076.0,-39.25],[2076.8,-40.10],[2077.5,-40.52],[2078.3,-41.09],
  [2078.9,-42.01],[2079.9,-41.66],[2080.3,-41.09],[2081.0,-41.23],[2081.5,-40.95],[2082.2,-41.52],[2082.7,-41.38],[2083.4,-41.66],[2083.9,-42.08],[2084.6,-41.94],
  [2085.4,-43.08],[2086.0,-42.79],[2086.6,-42.51],[2087.1,-42.08],[2087.7,-42.58],[2088.5,-42.30],[2089.2,-42.65],[2089.7,-42.51],[2090.4,-42.72],[2091.2,-42.44],
  [2091.8,-42.65],[2092.4,-42.79],[2093.0,-42.87],[2093.6,-42.51],[2094.2,-41.94],[2094.8,-41.73],[2095.3,-41.38],[2095.9,-41.66],[2096.5,-42.30],[2097.1,-42.37],
  [2097.7,-42.08],[2098.3,-41.66],[2098.9,-41.45],[2099.4,-41.16],[2100.0,-41.38],[2100.6,-41.59],[2101.2,-41.66],[2101.8,-42.51],[2102.4,-42.79],[2103.0,-42.77],
  [2103.8,-42.65],[2104.5,-42.72],[2105.3,-42.30],[2106.1,-41.52],[2106.8,-41.66],[2107.3,-42.23],[2108.0,-42.65],[2108.5,-42.51],[2109.2,-42.08],[2110.0,-42.01],
  [2110.6,-42.23],[2111.2,-42.51],[2111.8,-42.30],[2112.3,-42.16],[2112.9,-42.08],[2113.5,-41.80],[2114.1,-41.94],[2114.7,-42.08],[2115.5,-41.59],[2116.2,-40.81],
  [2117.0,-40.52],[2117.6,-40.10],[2118.2,-40.03],[2118.8,-39.82],[2119.4,-39.39],[2120.0,-39.32],[2120.6,-39.25],[2121.1,-39.11],[2121.7,-38.96],[2122.5,-38.82],
  [2123.2,-38.68],[2124.1,-38.40],[2124.7,-37.86],[2125.2,-38.04],[2125.8,-38.18],[2126.4,-38.26],[2127.0,-38.96],[2127.6,-40.52],[2128.2,-41.38],[2128.8,-41.66],
  [2129.3,-41.52],[2129.9,-41.94],[2130.5,-42.23],[2131.1,-42.37],[2131.7,-42.58],[2132.6,-42.44],[2133.1,-42.08],[2133.8,-42.58],[2134.6,-42.51],[2135.4,-42.23],
  [2136.1,-42.37],[2136.6,-42.65],[2137.3,-43.22],[2137.8,-43.08],[2138.5,-41.38],[2139.3,-40.24],[2139.9,-39.67],[2140.5,-39.32],[2141.1,-39.18],[2141.7,-38.82],
  [2142.2,-38.96],[2142.8,-39.25],[2143.4,-38.82],[2144.0,-38.54],[2144.6,-38.40],[2145.5,-38.18],[2146.0,-37.97],[2146.7,-38.96],[2147.3,-40.81],[2148.1,-40.95],
  [2148.7,-41.38],[2149.5,-41.66],[2150.2,-41.94],[2151.0,-41.66],[2151.9,-41.16],[2152.6,-41.09],[2153.4,-41.52],[2154.2,-41.73],[2154.9,-41.94],[2155.7,-42.08],
  [2156.3,-42.23],[2157.3,-42.01],[2158.1,-41.94],[2158.9,-42.01],[2159.6,-41.66],[2160.2,-40.24],[2161.0,-39.53],[2162.0,-39.32],[2162.4,-39.39],[2163.1,-39.53],
  [2163.9,-39.96],[2164.8,-40.31],[2165.5,-40.24],[2166.3,-39.89],[2167.1,-39.39],[2167.8,-39.03],[2168.6,-38.89],[2169.5,-38.68],[2170.2,-38.54],[2171.0,-38.33],
  [2171.8,-38.47],[2172.5,-38.40],[2173.3,-38.54],[2173.9,-38.40],[2174.9,-38.18],[2175.7,-38.04],[2176.5,-38.26],[2177.2,-38.40],[2178.0,-39.39],[2178.6,-41.09],
  [2179.2,-41.73],[2179.8,-41.66],[2180.7,-41.52],[2181.5,-42.08],[2182.1,-42.30],[2182.7,-41.94],[2183.5,-41.66],[2184.2,-42.23],[2184.7,-43.08],[2185.1,-43.57],
  [2185.6,-42.79],[2186.2,-41.94],[2186.8,-41.52],[2187.4,-41.66],[2188.0,-41.73],[2188.6,-41.80],[2189.2,-41.66],[2189.7,-41.87],[2190.3,-41.80],[2190.9,-41.66],
  [2191.5,-41.49],[2192.1,-41.52],[2192.4,-41.77],[2193.3,-40.38],[2193.8,-40.03],[2194.4,-39.32],[2195.0,-39.32],[2195.6,-39.53],[2196.2,-39.46],[2196.8,-39.22],
  [2197.4,-39.25],[2197.9,-39.39],[2198.5,-40.03],[2199.1,-40.60],[2199.7,-40.67],[2200.3,-40.52],[2200.9,-40.67],[2201.5,-40.67],[2202.0,-39.67],[2202.6,-39.39],
  [2203.2,-39.11],[2203.8,-38.96],[2204.4,-38.68],[2205.0,-38.47],[2205.6,-38.40],[2206.2,-38.82],[2206.7,-38.75],[2207.9,-38.68],[2209.1,-38.61],[2210.3,-38.54],
  [2211.4,-38.26],[2212.0,-37.97],[2212.6,-38.04],[2213.2,-38.26],[2213.8,-38.47],[2214.7,-38.65],[2215.5,-38.33],[2216.1,-38.04],[2217.1,-37.97],[2217.9,-37.83],
  [2218.5,-37.69],[2219.1,-37.57],[2219.6,-37.40],[2220.2,-37.47],[2220.8,-37.62],[2221.4,-37.69],[2222.0,-37.76],[2222.6,-37.62],[2223.2,-37.80],[2223.7,-37.83],
  [2224.3,-37.62],[2224.9,-37.47],[2225.5,-37.69],[2226.1,-37.40],[2226.7,-37.26],[2227.3,-37.33],[2227.9,-37.23],[2228.4,-37.19],[2229.0,-37.19],[2229.6,-37.12],
  [2230.2,-37.09],[2230.8,-37.05],[2231.4,-38.68],[2232.0,-40.10],[2232.5,-41.09],[2233.1,-41.23],[2233.7,-41.16],[2234.3,-41.38],[2234.9,-41.80],[2235.5,-41.38],
  [2236.1,-41.23],[2236.6,-41.16],[2237.2,-41.38],[2237.8,-40.95],[2238.4,-40.88],[2239.0,-41.09],[2239.6,-41.52],[2240.2,-41.30],[2240.8,-41.23],[2241.3,-41.38],
  [2241.9,-41.66],[2242.5,-41.80],[2243.1,-41.52],[2243.7,-40.95],[2244.3,-40.60],[2244.9,-40.81],[2245.4,-41.52],[2246.0,-42.08],[2246.6,-42.23],[2247.2,-42.37],
  [2247.8,-42.08],[2248.4,-41.52],[2249.0,-41.23],[2249.5,-41.66],[2250.1,-41.94],[2250.7,-41.94],[2251.3,-41.38],[2251.9,-40.95],[2252.5,-40.81],[2253.1,-39.96],
  [2253.7,-39.25],[2254.2,-38.82],[2254.8,-38.75],[2255.4,-38.96],[2256.0,-39.67],[2256.6,-40.31],[2257.2,-40.38],[2257.8,-40.24],[2258.3,-40.52],[2258.9,-40.81],
  [2259.5,-41.09],[2260.1,-40.81],[2260.7,-40.74],[2261.3,-40.95],[2261.9,-41.23],[2262.4,-41.52],[2263.0,-41.59],[2263.6,-41.52],[2264.2,-41.38],[2264.8,-40.81],
  [2265.4,-40.67],[2266.0,-40.03],[2266.6,-39.67],[2267.1,-39.39],[2267.7,-38.82],[2268.3,-38.68],[2268.9,-38.75],[2269.5,-38.75],[2270.1,-38.96],[2270.7,-39.11],
  [2271.2,-39.11],[2271.8,-38.82],[2272.4,-38.26],[2273.0,-38.11],[2273.6,-38.04],[2274.2,-38.18],[2274.8,-38.54],[2275.3,-39.11],[2275.9,-39.96],[2276.5,-40.52],
  [2277.1,-40.88],[2277.7,-40.95],[2278.3,-41.09],[2278.9,-41.16],[2279.4,-41.23],[2280.0,-41.30],[2280.6,-41.38],[2281.2,-41.45],[2281.8,-41.52],[2282.4,-41.59],
  [2283.0,-41.66],[2283.6,-41.59],[2284.1,-41.09],[2284.7,-40.24],[2285.3,-39.67],[2285.9,-39.46],[2286.5,-39.53],[2287.1,-39.67],[2287.7,-39.60],[2288.2,-39.67],
  [2288.8,-39.74],[2289.4,-39.60],[2290.0,-39.53],[2290.6,-39.25],[2291.2,-39.11],[2291.8,-38.96],[2292.4,-38.68],[2292.9,-38.54],[2293.5,-38.26],[2294.1,-38.11],
  [2294.7,-38.26],[2295.3,-38.33],[2295.9,-38.40],[2296.5,-38.54],[2297.0,-38.40],[2297.6,-38.26],[2298.2,-38.11],[2298.8,-38.04],[2299.4,-38.26],[2300.3,-37.97],
  [2301.1,-38.04],[2302.0,-37.97],[2302.7,-38.11],[2303.5,-38.04],[2304.1,-38.68],[2304.7,-40.10],[2305.0,-41.59],[2305.8,-41.66],[2306.7,-41.80],[2307.4,-41.94],
  [2307.8,-42.08],[2308.5,-41.73],[2309.0,-41.38],[2309.7,-41.23],[2310.5,-41.59],[2311.1,-41.52],[2312.1,-41.30],[2312.9,-41.16],[2313.5,-41.23],[2314.0,-40.95],
  [2314.6,-39.96],[2315.2,-39.25],[2315.8,-38.75],[2316.4,-38.54],[2317.0,-38.96],[2317.6,-39.82],[2318.1,-40.38],[2318.7,-39.96],[2319.3,-39.67],[2320.3,-39.67],
  [2321.1,-39.74],[2321.9,-39.89],[2322.6,-39.96],[2323.4,-39.60],[2324.2,-39.50],[2324.9,-39.67],[2325.4,-39.39],[2326.1,-39.11],[2326.6,-38.96],[2327.5,-39.03],
  [2328.1,-39.11],[2328.9,-39.25],[2329.6,-39.46],[2330.1,-39.11],[2331.0,-38.54],[2332.0,-38.61],[2332.8,-38.54],[2333.6,-38.40],[2334.6,-38.26],[2335.5,-38.09],
  [2336.3,-37.97],[2337.1,-38.04],[2337.8,-38.11],[2338.7,-38.33],[2339.5,-38.40],[2340.4,-38.23],[2341.4,-38.11],[2342.2,-38.04],[2343.0,-37.97],[2344.0,-37.76],
  [2344.9,-37.55],[2345.7,-37.33],[2346.3,-37.19],[2347.2,-37.12],[2348.4,-37.09],[2349.2,-37.26],[2350.0,-37.55],[2350.7,-37.40],[2351.6,-37.12],[2352.4,-36.91],
  [2353.3,-37.05],[2354.3,-37.33],[2355.1,-37.19],[2355.9,-36.84],[2356.8,-36.70],[2357.4,-36.62],[2358.0,-37.26],[2358.6,-38.68],[2359.2,-40.24],[2359.8,-40.81],
  [2360.4,-41.16],[2361.0,-40.88],[2361.5,-40.81],[2362.1,-41.02],[2362.7,-40.95],[2363.3,-40.67],[2363.9,-40.31],[2364.5,-40.17],[2365.1,-40.24],[2365.6,-40.38],
  [2366.2,-40.45],[2366.8,-40.52],[2367.4,-41.09],[2368.0,-41.16],[2368.6,-40.88],[2369.2,-40.52],[2369.7,-40.67],[2370.3,-40.95],[2370.9,-41.38],[2371.5,-41.09],
  [2372.1,-40.95],[2372.7,-40.81],[2373.3,-40.24],[2373.8,-39.60],[2374.4,-39.53],[2375.6,-39.53],[2376.8,-39.39],[2377.4,-39.32],[2378.2,-39.39],[2379.1,-38.54],
  [2379.7,-38.18],[2380.3,-38.26],[2380.9,-38.26],[2381.5,-38.96],[2382.1,-39.32],[2382.6,-39.46],[2383.2,-39.11],[2383.8,-38.68],[2384.4,-38.33],[2385.0,-38.82],
  [2385.6,-39.53],[2386.2,-40.24],[2386.7,-40.67],[2387.3,-40.24],[2387.9,-40.24],[2388.5,-39.96],[2389.1,-39.53],[2389.7,-38.89],[2390.3,-39.11],[2390.8,-39.25],
  [2391.4,-39.46],[2392.0,-39.39],[2392.6,-39.53],[2393.2,-39.67],[2393.8,-39.89],[2394.4,-39.60],[2394.9,-39.32],[2395.5,-39.39],[2396.1,-39.53],[2396.7,-39.70],
  [2397.3,-39.46],[2397.9,-39.39],[2398.5,-39.18],[2399.1,-39.39],[2399.6,-39.39]
];

// Axis ticks and labels
const ngripTicks = [1800, 1850, 1900, 1950, 2000, 2050, 2100, 2150, 2200, 2250];
const gisp2Ticks = [2000, 2050, 2100, 2150, 2200, 2250, 2300, 2350, 2400];
const layerTicks = [0.01, 0.015, 0.02, 0.025, 0.03, 0.035, 0.04];
const ngripIsoTicks = [-46, -45, -44, -43, -42, -41, -40, -39, -38, -37, -36];
const gisp2IsoTicks = [-44, -43, -42, -41, -40, -39, -38, -37, -36];
const interstadials = ['GI-3', '4', '5', '6', '7', '8', '9', '10', '11', '12', '13'];
const interstadialDepths = [1868.2, 1888.3, 1943.7, 1972.5, 2000.0, 2057.1, 2102.3, 2122.8, 2153.6, 2203.3, 2249.7];

// ===== STYLE =====
const FONT = '"Liberation Sans", Arial, Helvetica, sans-serif';
const INK = '#111';
const AXIS = '#333';
const BLUE = '#0000ff', RED = '#ff0000', BLACK = '#000000';

Chart.defaults.font.family = FONT;
Chart.defaults.color = INK;

const depthLabel = v => (v % 100 === 0 ? String(v) : '');
const layerLabel = v => (Math.abs(v * 100 - Math.round(v * 100)) < 1e-6 ? v.toFixed(2) : '');
const isoLabel = v => (v % 2 === 0 ? String(v) : '');

function axis(position, min, max, ticks, label, padding, labelOffset) {
  return {
    type: 'linear', position, min, max,
    afterBuildTicks: s => { s.ticks = ticks.map(value => ({ value })); },
    ticks: { autoSkip: false, minRotation: 0, maxRotation: 0, padding, labelOffset, color: INK, font: { size: 21 }, callback: label },
    grid: { display: true, drawOnChartArea: false, drawTicks: true, tickLength: 12, tickWidth: 1.3, tickColor: AXIS },
    border: { display: true, color: AXIS, width: 1.3 }
  };
}

const line = (label, pts, color, xAxisID, yAxisID) => ({
  label, xAxisID, yAxisID,
  data: pts.map(([x, y]) => ({ x, y })),
  borderColor: color, backgroundColor: color,
  borderWidth: 1.4, pointRadius: 0, pointBorderWidth: 1.5,
  tension: 0, fill: false, clip: false
});

// put every axis box where the figure has it
const placeBoxes = {
  id: 'placeBoxes',
  afterLayout(chart) {
    const put = (id, left, top, right, bottom) => {
      const s = chart.scales[id];
      Object.assign(s, { left, top, right, bottom, width: right - left, height: bottom - top });
      s.configure();
    };
    put('x', 112, 786, 1256.4, 840);
    put('x2', 119, 874, 1256, 925);
    put('yRedLT', 10, 256, 100.5, 445);
    put('yRedIso', 10, 567, 100.5, 755);
    put('yBlueLT', 998, 70, 1080, 260);
    put('yBlackLT', 1282, 174, 1370, 363);
    put('yBlueIso', 1282, 454, 1370, 643);
    Object.assign(chart.chartArea, { left: 112, top: 40, right: 1256, bottom: 786, width: 1144, height: 746 });
    // legend box big enough to hold all three rows in one column
    Object.assign(chart.legend, { left: 105, top: 3, right: 445, bottom: 200, width: 340, height: 197 });
  }
};

function vtext(ctx, s, x, y) {
  ctx.save();
  ctx.translate(x, y);
  ctx.rotate(-Math.PI / 2);
  ctx.fillText(s, 0, 0);
  ctx.restore();
}

const annotate = {
  id: 'annotate',
  afterDraw(chart) {
    const ctx = chart.ctx;
    const xs = chart.scales.x;
    ctx.save();
    ctx.fillStyle = INK;
    ctx.textAlign = 'center';
    ctx.textBaseline = 'middle';
    ctx.font = `21px ${FONT}`;
    ctx.fillText('Annual layer thickness', 685, 60);

    // Stable isotopes (δ18O) with superscript
    const a = 'Stable isotopes (δ', b = '18', c = 'O)';
    ctx.textAlign = 'left';
    const wa = ctx.measureText(a).width, wc = ctx.measureText(c).width;
    ctx.font = `14px ${FONT}`;
    const wb = ctx.measureText(b).width;
    const x0 = 682 - (wa + wb + wc) / 2;
    ctx.font = `21px ${FONT}`;
    ctx.fillText(a, x0, 469);
    ctx.font = `14px ${FONT}`;
    ctx.fillText(b, x0 + wa, 462);
    ctx.font = `21px ${FONT}`;
    ctx.fillText(c, x0 + wa + wb, 469);

    ctx.textAlign = 'center';
    interstadials.forEach((name, i) => ctx.fillText(name, xs.getPixelForValue(interstadialDepths[i]), 754));
    ctx.fillText('NorthGRIP depth (m)', 690, 847);
    ctx.fillText('GISP2 depth (m)', 690, 936);

    vtext(ctx, '(m)', 1083, 164);
    vtext(ctx, '(m)', 1369, 270);
    vtext(ctx, '(‰)', 1369, 548);
    vtext(ctx, '(m)', 17, 348);
    vtext(ctx, '(‰)', 29, 661);

    // legend frame
    ctx.strokeStyle = AXIS;
    ctx.lineWidth = 1.3;
    ctx.strokeRect(108.5, 8.5, 337, 92);
    ctx.restore();
  }
};

new Chart(document.getElementById('chart'), {
  type: 'line',
  data: {
    datasets: [
      line('NGRIP GICC05', gicc05Layer, BLUE, 'x', 'yBlueLT'),
      line('NGRIP ss09sea', ss09Layer, BLACK, 'x', 'yBlackLT'),
      line('GISP2 Meese-Sowers', gisp2Layer, RED, 'x2', 'yRedLT'),
      line('NGRIP δ18O', ngripIso, BLUE, 'x', 'yBlueIso'),
      line('GISP2 δ18O', gisp2Iso, RED, 'x2', 'yRedIso')
    ]
  },
  options: {
    responsive: false,
    animation: false,
    events: [],
    plugins: {
      tooltip: { enabled: false },
      legend: {
        position: 'left', align: 'start',
        labels: {
          usePointStyle: true, pointStyle: 'line', pointStyleWidth: 122,
          padding: 12, color: INK, font: { size: 18 },
          filter: item => item.datasetIndex < 3
        }
      }
    },
    scales: {
      x: axis('bottom', 1800, 2270, ngripTicks, depthLabel, 7, 0),
      x2: axis('bottom', 2000, 2400, gisp2Ticks, depthLabel, 7, 0),
      yRedLT: axis('left', 0.01, 0.04, layerTicks, layerLabel, 10, 1),
      yRedIso: axis('left', -44, -36, gisp2IsoTicks, isoLabel, 10, 1),
      yBlueLT: axis('right', 0.01, 0.04, layerTicks, layerLabel, 10, 1),
      yBlackLT: axis('right', 0.01, 0.04, layerTicks, layerLabel, 10, 1),
      yBlueIso: axis('right', -46, -36, ngripIsoTicks, isoLabel, 10, 1)
    }
  },
  plugins: [placeBoxes, annotate]
});
</script>
</body>
</html>
